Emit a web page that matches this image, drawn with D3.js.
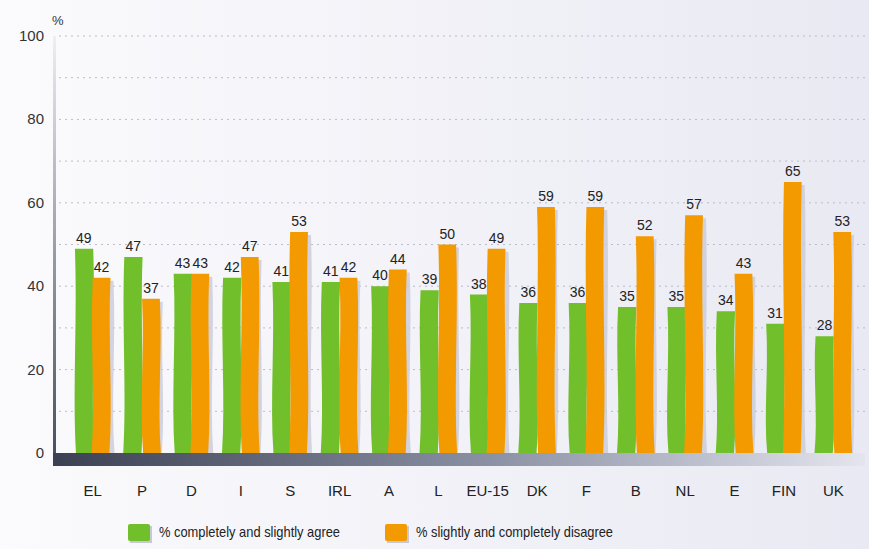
<!DOCTYPE html>
<html>
<head>
<meta charset="utf-8">
<script src="https://cdn.jsdelivr.net/npm/d3@7"></script>
<style>
  body { margin: 0; background: #fff; }
  svg { display: block; }
</style>
</head>
<body>
<script>
const w = 869;
const h = 549;

// data
const countries = ["EL", "P", "D", "I", "S", "IRL", "A", "L", "EU-15", "DK", "F", "B", "NL", "E", "FIN", "UK"];
const agree = [49, 47, 43, 42, 41, 41, 40, 39, 38, 36, 36, 35, 35, 34, 31, 28];
const disagree = [42, 37, 43, 47, 53, 42, 44, 50, 49, 59, 59, 52, 57, 43, 65, 53];
const yTicks = [0, 20, 40, 60, 80, 100];
const legendLabels = ["% completely and slightly agree", "% slightly and completely disagree"];

const green = "#71bf2b";
const orange = "#f39a00";

let svg = d3.select("body")
            .append("svg")
            .attr("width", w)
            .attr("height", h);

let defs = svg.append("defs");

let bg = defs.append("linearGradient").attr("id", "bg")
             .attr("x1", "0").attr("x2", "1").attr("y1", "0").attr("y2", "0");
bg.append("stop").attr("offset", "0").attr("stop-color", "#fbfbfd");
bg.append("stop").attr("offset", "1").attr("stop-color", "#e9e9f3");

let axisGrad = defs.append("linearGradient").attr("id", "axisbar")
                   .attr("x1", "0").attr("x2", "1").attr("y1", "0").attr("y2", "0");
axisGrad.append("stop").attr("offset", "0").attr("stop-color", "#3b4152");
axisGrad.append("stop").attr("offset", "0.55").attr("stop-color", "#8d93a6");
axisGrad.append("stop").attr("offset", "1").attr("stop-color", "#e4e5ee");

let yAxisGrad = defs.append("linearGradient").attr("id", "yaxis")
                    .attr("x1", "0").attr("x2", "0").attr("y1", "0").attr("y2", "1");
yAxisGrad.append("stop").attr("offset", "0").attr("stop-color", "#eeeef4");
yAxisGrad.append("stop").attr("offset", "1").attr("stop-color", "#4a5062");

// page background
svg.append("rect").attr("width", w).attr("height", h).attr("fill", "url(#bg)");

const plotLeft = 55, plotRight = 865, plotTop = 36, plotBottom = 453;

let x = d3.scaleBand()
          .domain(countries)
          .range([68, 858])
          .paddingInner(0.28)
          .paddingOuter(0.14);

let y = d3.scaleLinear()
          .domain([0, 100])
          .range([plotBottom, plotTop]);

// dotted grid every 10
svg.append("g")
   .selectAll("line")
   .data(d3.range(10, 101, 10))
   .enter()
   .append("line")
   .attr("x1", plotLeft + 4)
   .attr("x2", plotRight)
   .attr("y1", d => y(d))
   .attr("y2", d => y(d))
   .attr("stroke", "#b9bccb")
   .attr("stroke-width", 1)
   .attr("stroke-dasharray", "2,4");

// y axis line
svg.append("rect")
   .attr("x", plotLeft - 2).attr("y", plotTop)
   .attr("width", 3).attr("height", plotBottom - plotTop)
   .attr("fill", "url(#yaxis)");

// y tick labels
svg.append("g")
   .selectAll("text")
   .data(yTicks)
   .enter()
   .append("text")
   .attr("x", 44)
   .attr("y", d => y(d) + 5)
   .attr("text-anchor", "end")
   .attr("font-family", "Liberation Sans, Arial, sans-serif")
   .attr("font-size", 15)
   .attr("fill", "#333")
   .text(d => d);

svg.append("text")
   .attr("x", 52).attr("y", 25)
   .attr("font-family", "Liberation Sans, Arial, sans-serif")
   .attr("font-size", 13)
   .attr("fill", "#333")
   .text("%");

// wavy bar shape
function wavyBar(x0, x1, yTop, yBot, k) {
  const p = d3.path();
  const hgt = yBot - yTop;
  const s = (k % 2 === 0 ? 1 : -1) * 2.6;
  p.moveTo(x0, yTop);
  p.lineTo(x1, yTop);
  p.bezierCurveTo(x1 + s, yTop + hgt * 0.35, x1 - s, yTop + hgt * 0.7, x1 + s * 0.4, yBot);
  p.lineTo(x0 + s * 0.4, yBot);
  p.bezierCurveTo(x0 - s, yTop + hgt * 0.7, x0 + s, yTop + hgt * 0.35, x0, yTop);
  p.closePath();
  return p.toString();
}

const half = x.bandwidth() / 2;

let groups = svg.append("g")
                .selectAll("g")
                .data(countries)
                .enter()
                .append("g");

// shadow
groups.append("path")
      .attr("d", (d, i) => wavyBar(x(d) + half + 3, x(d) + x.bandwidth() + 3, y(disagree[i]) + 3, plotBottom, i))
      .attr("fill", "#c9cbd8")
      .attr("opacity", 0.8);

groups.append("path")
      .attr("d", (d, i) => wavyBar(x(d), x(d) + half + 0.5, y(agree[i]), plotBottom, i))
      .attr("fill", green);

groups.append("path")
      .attr("d", (d, i) => wavyBar(x(d) + half, x(d) + x.bandwidth(), y(disagree[i]), plotBottom, i + 1))
      .attr("fill", orange);

groups.append("text")
      .attr("x", d => x(d) + half / 2)
      .attr("y", (d, i) => y(agree[i]) - 6)
      .attr("text-anchor", "middle")
      .attr("font-family", "Liberation Sans, Arial, sans-serif")
      .attr("font-size", 14)
      .attr("fill", "#222")
      .text((d, i) => agree[i]);

groups.append("text")
      .attr("x", d => x(d) + half * 1.5)
      .attr("y", (d, i) => y(disagree[i]) - 6)
      .attr("text-anchor", "middle")
      .attr("font-family", "Liberation Sans, Arial, sans-serif")
      .attr("font-size", 14)
      .attr("fill", "#222")
      .text((d, i) => disagree[i]);

// x axis bar
svg.append("rect")
   .attr("x", plotLeft - 2).attr("y", plotBottom)
   .attr("width", plotRight - plotLeft + 2).attr("height", 13)
   .attr("fill", "url(#axisbar)");

// x tick labels
svg.append("g")
   .selectAll("text")
   .data(countries)
   .enter()
   .append("text")
   .attr("x", d => x(d) + half)
   .attr("y", 496)
   .attr("text-anchor", "middle")
   .attr("font-family", "Liberation Sans, Arial, sans-serif")
   .attr("font-size", 15)
   .attr("fill", "#222")
   .text(d => d);

// legend
const legendX = [128, 385];
const legendLen = [181, 197];
const legendColors = [green, orange];
let legend = svg.append("g")
                .selectAll("g")
                .data(legendLabels)
                .enter()
                .append("g")
                .attr("transform", (d, i) => "translate(" + legendX[i] + ",524)");

legend.append("rect")
      .attr("x", 2).attr("y", 2)
      .attr("width", 22).attr("height", 17)
      .attr("fill", "#c6c8d4");
legend.append("rect")
      .attr("width", 22).attr("height", 17)
      .attr("rx", 2)
      .attr("fill", (d, i) => legendColors[i]);
legend.append("text")
      .attr("x", 31).attr("y", 13)
      .attr("font-family", "Liberation Sans, Arial, sans-serif")
      .attr("font-size", 15)
      .attr("textLength", (d, i) => legendLen[i])
      .attr("lengthAdjust", "spacingAndGlyphs")
      .attr("fill", "#222")
      .text(d => d);
</script>
</body>
</html>
